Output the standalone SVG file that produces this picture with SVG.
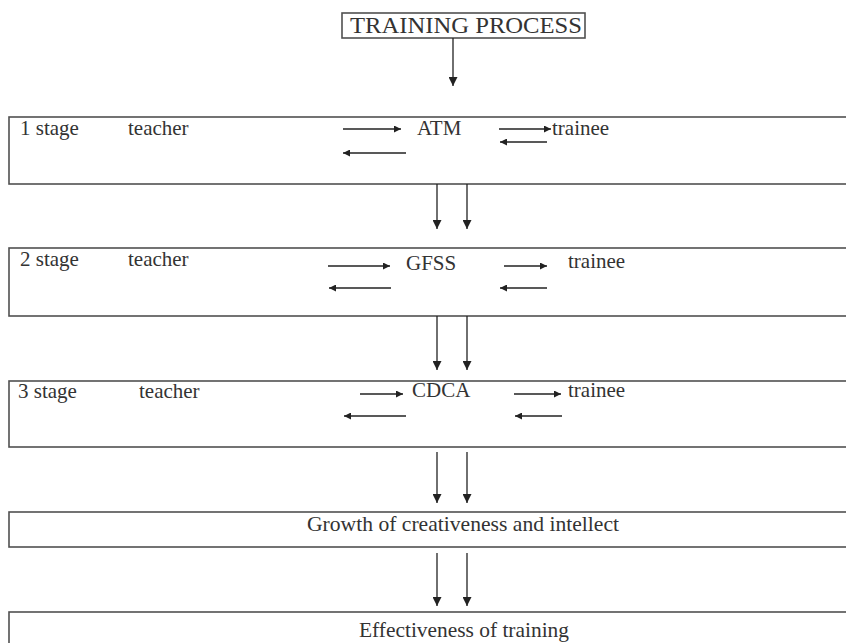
<svg xmlns="http://www.w3.org/2000/svg" width="846" height="643" viewBox="0 0 846 643">
<defs>
<marker id="ah" viewBox="0 0 10 10" refX="10" refY="5" markerWidth="7" markerHeight="7" markerUnits="userSpaceOnUse" orient="auto"><path d="M0,0 L10,5 L0,10 z" fill="#222"/></marker>
<marker id="av" viewBox="0 0 10 10" refX="10" refY="5" markerWidth="9" markerHeight="9" markerUnits="userSpaceOnUse" orient="auto"><path d="M0,0 L10,5 L0,10 z" fill="#222"/></marker>
</defs>
<style>
.t{font-family:'Liberation Serif','DejaVu Serif',serif;font-size:21px;fill:#333}
.box{fill:none;stroke:#505050;stroke-width:1.6}
.h{stroke:#222;stroke-width:1.3;fill:none;marker-end:url(#ah)}
.v{stroke:#222;stroke-width:1.3;fill:none;marker-end:url(#av)}
.c{text-anchor:middle}
</style>
<rect width="846" height="643" fill="#fff"/>
<g id="title">
<rect class="box" x="342" y="13" width="243" height="25"/>
<text class="t" x="350" y="33" textLength="232" lengthAdjust="spacingAndGlyphs" style="font-size:23px">TRAINING PROCESS</text>
</g>
<g id="stage1">
<rect class="box" x="9" y="117" width="845" height="67"/>
<text class="t" x="20" y="135">1 stage</text>
<text class="t" x="128" y="135">teacher</text>
<text class="t" x="417" y="135">ATM</text>
<text class="t" x="552" y="135">trainee</text>
</g>
<g id="stage2">
<rect class="box" x="9" y="248" width="845" height="68"/>
<text class="t" x="20" y="266">2 stage</text>
<text class="t" x="128" y="266">teacher</text>
<text class="t" x="406" y="270">GFSS</text>
<text class="t" x="568" y="268">trainee</text>
</g>
<g id="stage3">
<rect class="box" x="9" y="381" width="845" height="66"/>
<text class="t" x="18" y="398">3 stage</text>
<text class="t" x="139" y="398">teacher</text>
<text class="t" x="412" y="397">CDCA</text>
<text class="t" x="568" y="397">trainee</text>
</g>
<g id="growth">
<rect class="box" x="9" y="512" width="845" height="35"/>
<text class="t c" x="463" y="531" textLength="312" lengthAdjust="spacingAndGlyphs">Growth of creativeness and intellect</text>
</g>
<g id="effectiveness">
<rect class="box" x="9" y="612" width="845" height="50"/>
<text class="t c" x="464" y="637" textLength="210" lengthAdjust="spacingAndGlyphs">Effectiveness of training</text>
</g>
<g id="connectors">
<line class="v" x1="453" y1="38" x2="453" y2="86"/>
<line class="h" x1="343" y1="129" x2="401" y2="129"/>
<line class="h" x1="499" y1="129" x2="551" y2="129"/>
<line class="h" x1="547" y1="142" x2="500" y2="142"/>
<line class="h" x1="406" y1="153" x2="343" y2="153"/>
<line class="v" x1="437" y1="184" x2="437" y2="229"/>
<line class="v" x1="467" y1="184" x2="467" y2="229"/>
<line class="h" x1="328" y1="266" x2="390" y2="266"/>
<line class="h" x1="504" y1="266" x2="547" y2="266"/>
<line class="h" x1="391" y1="288" x2="329" y2="288"/>
<line class="h" x1="547" y1="288" x2="500" y2="288"/>
<line class="v" x1="437" y1="316" x2="437" y2="370"/>
<line class="v" x1="467" y1="316" x2="467" y2="370"/>
<line class="h" x1="360" y1="394" x2="403" y2="394"/>
<line class="h" x1="514" y1="394" x2="561" y2="394"/>
<line class="h" x1="406" y1="416" x2="344" y2="416"/>
<line class="h" x1="562" y1="416" x2="515" y2="416"/>
<line class="v" x1="437" y1="452" x2="437" y2="503"/>
<line class="v" x1="467" y1="452" x2="467" y2="503"/>
<line class="v" x1="437" y1="553" x2="437" y2="606"/>
<line class="v" x1="467" y1="553" x2="467" y2="606"/>
</g>
</svg>
